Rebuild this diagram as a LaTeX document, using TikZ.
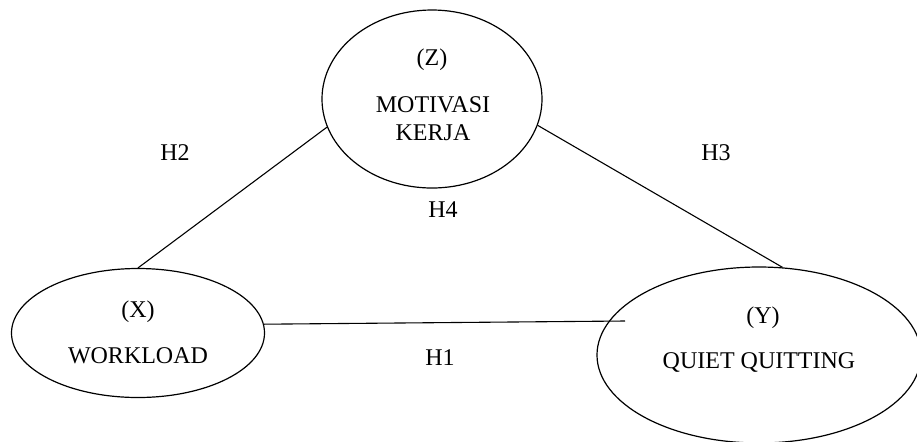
\documentclass[tikz,border=0pt]{standalone}
\usepackage{fontspec}
\setmainfont{Liberation Serif}
\usetikzlibrary{shapes.geometric}

\tikzset{
	varnode/.style={draw, ellipse, line width=0.6pt, inner sep=0pt},
	lbl/.style={font=\fontsize{12pt}{14pt}\selectfont, inner sep=0pt, align=center},
	path/.style={line width=0.55pt}
}

\begin{document}
	\begin{tikzpicture}[x=0.5pt,y=-0.5pt]
	\clip (0,0) rectangle (917,441);
	\useasboundingbox (0,0) rectangle (917,441);
	
	% variables
	\node [varnode, minimum width=110pt, minimum height=89pt] (Z) at (432,99) {};
	\node [varnode, minimum width=126.5pt, minimum height=64.5pt] (X) at (138,333) {};
	\node [varnode, minimum width=162pt, minimum height=88pt] (Y) at (759,355) {};
	
	\node [lbl] (zcode) at (432,60) {(Z)};
	\node [lbl] (zname) at (433,119) {MOTIVASI\\KERJA};
	\node [lbl] (xcode) at (138,312) {(X)};
	\node [lbl] (xname) at (138,356) {WORKLOAD};
	\node [lbl] (ycode) at (763,318) {(Y)};
	\node [lbl] (yname) at (759,362) {QUIET QUITTING};
	
	% hypotheses
	\coordinate (h1end) at (625,321);
	\draw [path] (Z.195) -- (X.north);
	\draw [path] (Z.-14) -- (Y.75);
	\draw [path] (X.4) -- (h1end);
	
	\node [lbl] (h1) at (440,358) {H1};
	\node [lbl] (h2) at (175,153) {H2};
	\node [lbl] (h3) at (716,153) {H3};
	\node [lbl] (h4) at (443,210) {H4};
	
	\end{tikzpicture}
\end{document}
